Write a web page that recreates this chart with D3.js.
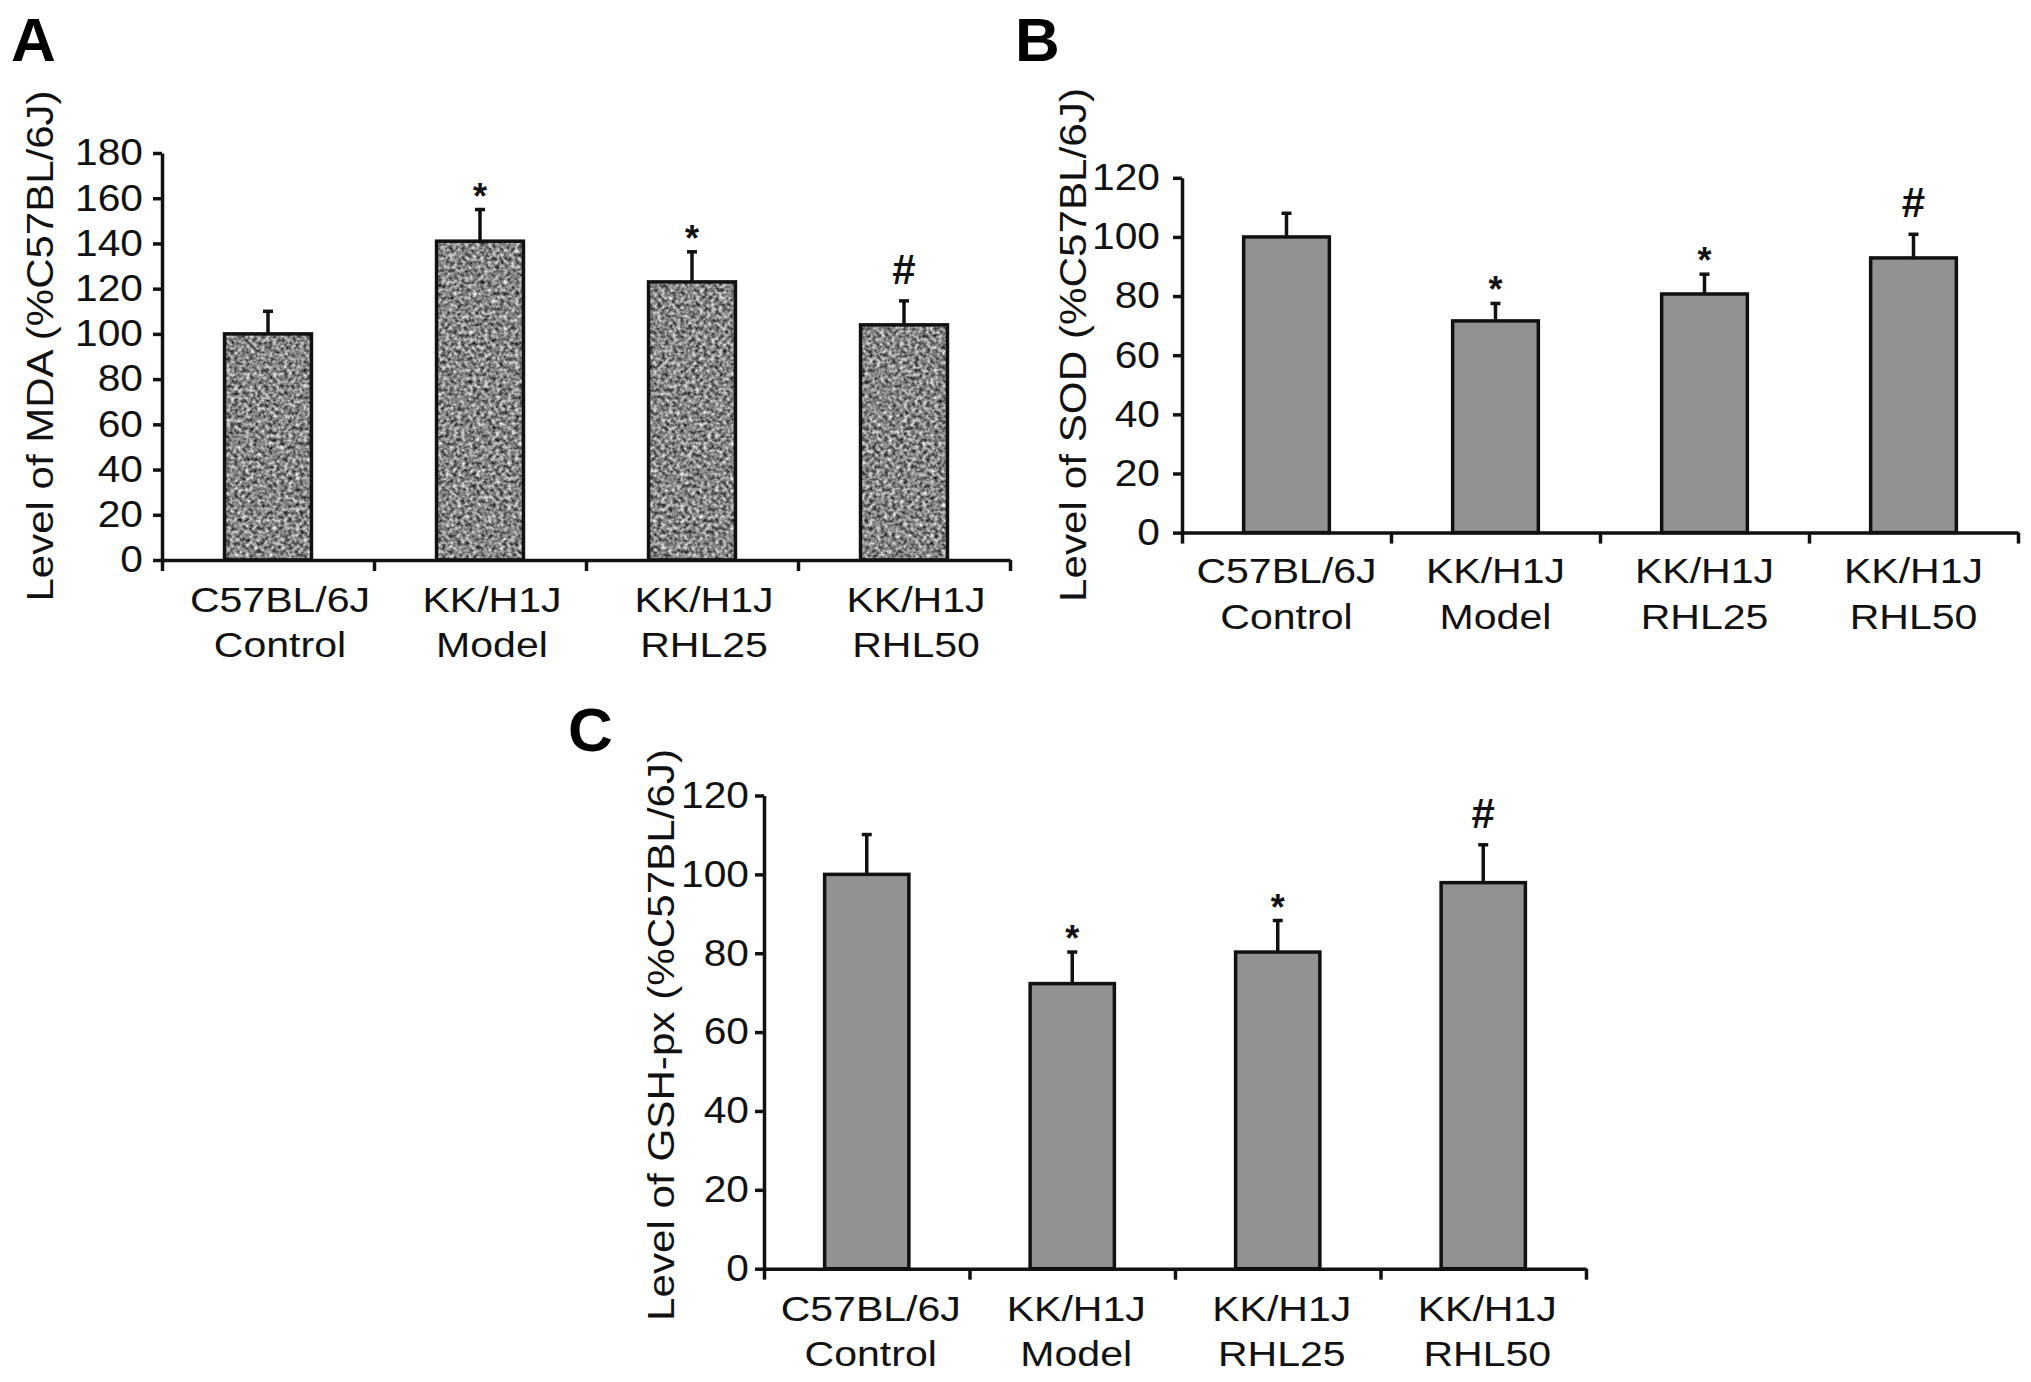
<!DOCTYPE html>
<html>
<head>
<meta charset="utf-8">
<script src="https://cdn.jsdelivr.net/npm/d3@7"></script>
<style>
  html, body { margin: 0; padding: 0; background: #ffffff; }
  svg { display: block; font-family: "Liberation Sans", Arial, sans-serif; }
</style>
</head>
<body>
<svg id="chart" width="2031" height="1382"></svg>
<script>
// ---------------- data ----------------
const catLine1 = ["C57BL/6J", "KK/H1J", "KK/H1J", "KK/H1J"];
const catLine2 = ["Control", "Model", "RHL25", "RHL50"];
const marks    = ["", "*", "*", "#"];

const mdaValues = [100, 141, 123, 104];
const mdaErrors = [10, 14, 13.3, 10.6];
const mdaTicks  = [0, 20, 40, 60, 80, 100, 120, 140, 160, 180];

const sodValues = [100, 71.6, 80.7, 92.9];
const sodErrors = [8, 5.9, 6.7, 8];
const sodTicks  = [0, 20, 40, 60, 80, 100, 120];

const gshValues = [100, 72.3, 80.3, 97.9];
const gshErrors = [10.1, 8, 8, 9.6];
const gshTicks  = [0, 20, 40, 60, 80, 100, 120];

const titles  = ["Level of MDA  (%C57BL/6J)", "Level of SOD  (%C57BL/6J)", "Level of GSH-px  (%C57BL/6J)"];
const letters = ["A", "B", "C"];

// ---------------- layout ----------------
const svg = d3.select("#chart");
const defs = svg.append("defs");
const f = defs.append("filter").attr("id", "speckle")
  .attr("x", 0).attr("y", 0).attr("width", "100%").attr("height", "100%")
  .attr("color-interpolation-filters", "sRGB");
f.append("feTurbulence").attr("type", "fractalNoise").attr("baseFrequency", 0.26)
  .attr("numOctaves", 2).attr("seed", 7).attr("result", "noise");
f.append("feGaussianBlur").attr("in", "noise").attr("stdDeviation", 0.6).attr("result", "soft");
f.append("feColorMatrix").attr("in", "soft").attr("type", "matrix")
  .attr("values", "1.25 0 0 0 -0.1  1.25 0 0 0 -0.1  1.25 0 0 0 -0.1  0 0 0 0 1")
  .attr("result", "gray");
f.append("feComposite").attr("in", "gray").attr("in2", "SourceGraphic").attr("operator", "in");

const panels = [
  { values: mdaValues, errors: mdaErrors, ticks: mdaTicks, max: 180, title: titles[0], letter: letters[0],
    x0: 162, x1: 1010, y0: 560, yTop: 153, tickPad: 10, labelDx: 12, line1Y: 612, line2Y: 657,
    titleX: 53, titleY: 346, titleLen: 511, letterX: 11, letterY: 61, texture: true },
  { values: sodValues, errors: sodErrors, ticks: sodTicks, max: 120, title: titles[1], letter: letters[1],
    x0: 1182, x1: 2018, y0: 532.6, yTop: 177.8, tickPad: 13, labelDx: 0, line1Y: 583, line2Y: 629,
    titleX: 1086, titleY: 345, titleLen: 514, letterX: 1015, letterY: 61, texture: false },
  { values: gshValues, errors: gshErrors, ticks: gshTicks, max: 120, title: titles[2], letter: letters[2],
    x0: 764, x1: 1586, y0: 1268.7, yTop: 795.5, tickPad: 6, labelDx: 4, line1Y: 1321, line2Y: 1366,
    titleX: 674, titleY: 1035, titleLen: 572, letterX: 568, letterY: 751, texture: false }
];

const SX = 1.14;     // horizontal stretch of the printed text
const STROKE = 3.5;

function stretch(sel, sx) {
  sel.each(function () {
    const t = d3.select(this);
    const x = +t.attr("x") || 0;
    t.attr("transform", `translate(${x},0) scale(${sx},1) translate(${-x},0)`);
  });
}

panels.forEach(p => {
  const g = svg.append("g");
  const y = d3.scaleLinear().domain([0, p.max]).range([p.y0, p.yTop]);
  const x = d3.scaleBand().domain(d3.range(p.values.length)).range([p.x0, p.x1]).padding(0);
  const xb = d3.scaleLinear().domain([0, p.values.length]).range([p.x0, p.x1]);
  const barW = x.bandwidth() * 0.41;

  // bars
  const bars = g.append("g");
  const cx = i => x(i) + x.bandwidth() / 2;
  bars.selectAll("rect.fill").data(p.values).join("rect")
    .attr("class", "fill")
    .attr("x", (d, i) => cx(i) - barW / 2)
    .attr("y", d => y(d))
    .attr("width", barW)
    .attr("height", d => y(0) - y(d))
    .attr("fill", p.texture ? "#858585" : "#929292")
    .attr("filter", p.texture ? "url(#speckle)" : null);
  bars.selectAll("rect.edge").data(p.values).join("rect")
    .attr("class", "edge")
    .attr("x", (d, i) => cx(i) - barW / 2)
    .attr("y", d => y(d))
    .attr("width", barW)
    .attr("height", d => y(0) - y(d))
    .attr("fill", "none").attr("stroke", "#111").attr("stroke-width", STROKE);

  // error bars (upper only)
  const eb = g.append("g").attr("stroke", "#111").attr("stroke-width", STROKE);
  p.values.forEach((v, i) => {
    const top = y(v + p.errors[i]);
    eb.append("line").attr("x1", cx(i)).attr("x2", cx(i)).attr("y1", y(v)).attr("y2", top);
    eb.append("line").attr("x1", cx(i) - 5).attr("x2", cx(i) + 5).attr("y1", top).attr("y2", top);
  });

  // significance marks
  p.values.forEach((v, i) => {
    const m = marks[i];
    if (!m) return;
    const top = y(v + p.errors[i]);
    if (m === "*") {
      g.append("text").attr("x", cx(i)).attr("y", top - 1)
        .attr("text-anchor", "middle").attr("font-size", 36).attr("font-weight", "bold")
        .attr("fill", "#111").text(m);
    } else {
      g.append("text").attr("x", cx(i)).attr("y", top - 17)
        .attr("text-anchor", "middle").attr("font-size", 42).attr("font-weight", "bold")
        .attr("fill", "#111").text(m);
    }
  });

  // y axis
  const gy = g.append("g").attr("transform", `translate(${p.x0},0)`)
    .call(d3.axisLeft(y).tickValues(p.ticks).tickSize(9).tickSizeOuter(0).tickPadding(p.tickPad));
  gy.select(".domain").attr("stroke", "#111").attr("stroke-width", STROKE);
  gy.selectAll(".tick line").attr("stroke", "#111").attr("stroke-width", STROKE);
  gy.selectAll(".tick text").attr("font-size", 37).attr("fill", "#111")
    .attr("font-family", "Liberation Sans, Arial, sans-serif");
  stretch(gy.selectAll(".tick text"), 1.1);

  // x axis with boundary ticks
  const gx = g.append("g").attr("transform", `translate(0,${p.y0})`)
    .call(d3.axisBottom(xb).tickValues(d3.range(p.values.length + 1)).tickSize(11)
      .tickSizeOuter(0).tickFormat(""));
  gx.select(".domain").attr("stroke", "#111").attr("stroke-width", STROKE);
  gx.selectAll(".tick line").attr("stroke", "#111").attr("stroke-width", STROKE);

  // category labels
  const lab = g.append("g").attr("font-size", 36).attr("fill", "#111").attr("text-anchor", "middle");
  catLine1.forEach((t, i) => {
    lab.append("text").attr("x", cx(i) + p.labelDx).attr("y", p.line1Y).text(t);
    lab.append("text").attr("x", cx(i) + p.labelDx).attr("y", p.line2Y).text(catLine2[i]);
  });
  stretch(lab.selectAll("text"), SX);

  // y title
  g.append("text")
    .attr("transform", `translate(${p.titleX},${p.titleY}) rotate(-90)`)
    .attr("text-anchor", "middle").attr("font-size", 37).attr("fill", "#111")
    .attr("textLength", p.titleLen).attr("lengthAdjust", "spacingAndGlyphs")
    .text(p.title);

  // panel letter
  g.append("text").attr("x", p.letterX).attr("y", p.letterY)
    .attr("font-size", 62).attr("font-weight", "bold").attr("fill", "#000")
    .text(p.letter);
});
</script>
</body>
</html>
